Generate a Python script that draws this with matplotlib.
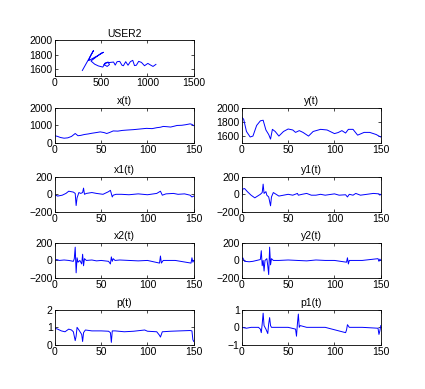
import matplotlib
matplotlib.use("Agg")
import matplotlib.pyplot as plt

plt.rcParams['font.family'] = ['Liberation Sans', 'DejaVu Sans']
plt.rcParams['font.size'] = 7.5

# signature trace (pen x, pen y)
sig_x = [297, 417, 385, 365, 470, 525, 500, 390, 430, 470, 518, 543, 575, 590, 565, 530, 560,
         600, 634, 652, 672, 700, 725, 740, 765, 790, 815, 841, 860, 880, 905, 935, 968, 1004,
         1030, 1060, 1091]
sig_y = [1576, 1857, 1780, 1715, 1790, 1833, 1820, 1710, 1665, 1640, 1624, 1681, 1695, 1660, 1633,
         1660, 1685, 1690, 1695, 1652, 1700, 1705, 1650, 1643, 1700, 1650, 1700, 1719, 1645, 1650,
         1705, 1690, 1643, 1676, 1655, 1633, 1662]

x_t = [0, 3, 6, 10, 14, 18, 22, 25, 28, 32, 36, 40, 45, 49, 53, 56, 59, 63, 68, 73, 78, 85, 92,
       99, 105, 110, 114, 117, 121, 125, 129, 132, 137, 141, 146, 148, 150]
x_v = [420, 380, 320, 280, 300, 380, 545, 420, 440, 490, 520, 560, 600, 636, 600, 545, 600, 690,
       680, 720, 740, 764, 800, 836, 820, 873, 900, 945, 930, 910, 960, 1000, 1010, 1040, 1090,
       1060, 990]

y_t = [0, 2, 5, 9, 12, 16, 20, 23, 26, 29, 31, 33, 36, 40, 45, 50, 55, 58, 62, 66, 72, 77, 85,
       92, 100, 104, 108, 112, 115, 120, 125, 132, 138, 145, 148, 150]
y_v = [1867, 1837, 1665, 1587, 1600, 1750, 1815, 1824, 1686, 1622, 1557, 1695, 1665, 1600, 1665,
       1700, 1686, 1652, 1677, 1652, 1600, 1665, 1695, 1686, 1635, 1650, 1677, 1643, 1695, 1695,
       1613, 1652, 1652, 1622, 1600, 1587]

x1_t = [0, 3, 8, 12, 15, 20, 22, 23, 24, 26, 28, 30, 31, 32, 34, 40, 45, 52, 58, 60, 62, 63, 66,
        72, 80, 90, 100, 110, 114, 116, 120, 128, 133, 140, 146, 148, 150]
x1_v = [-5, -20, -10, 10, 35, 25, 10, -127, -40, 20, 10, 20, 70, 0, 10, 20, 10, 0, 30, 45, -30,
        -10, 0, 0, -5, 5, -5, 10, 35, -10, 5, 10, 0, 5, -10, -30, -20]

y1_t = [0, 1, 3, 6, 10, 14, 17, 20, 22, 23, 24, 26, 27, 29, 31, 32, 34, 37, 40, 45, 50, 55, 60,
        61, 65, 70, 75, 80, 85, 90, 100, 105, 112, 114, 116, 120, 123, 128, 135, 142, 148, 149, 150]
y1_v = [-20, 60, 65, 30, -10, -40, -20, 0, 20, 115, 10, 30, -10, -30, -130, -30, 20, 0, -20, -10,
        0, -10, 10, -10, 0, 10, -10, -10, 0, -10, 5, -10, -5, -30, 0, -10, 10, -10, 0, 10, 5, -10, 0]

x2_t = [0, 2, 5, 10, 15, 20, 21, 22, 23, 24, 25, 27, 29, 30, 31, 32, 34, 40, 45, 50, 58, 60, 61,
        62, 63, 65, 70, 80, 90, 100, 113, 114, 115, 117, 130, 147, 148, 149, 150]
x2_v = [0, 10, 0, 5, 0, -10, 20, 150, -140, 30, -20, 0, -40, 70, -60, 20, 0, 5, -5, 0, -10, -40,
        40, -10, 20, 0, 5, 0, -5, 0, -30, 50, -30, 0, 0, -30, 30, -20, 0]

y2_t = [0, 1, 3, 8, 12, 16, 20, 21, 22, 23, 24, 25, 27, 28, 29, 30, 31, 32, 34, 40, 50, 60, 70,
        80, 90, 100, 113, 114, 115, 116, 130, 147, 148, 149, 150]
y2_v = [20, 30, -10, -15, -10, 0, 10, 110, -60, 0, -120, 0, 20, -60, -160, 150, -50, 20, 0, 0, 5,
        0, -5, 5, 0, 0, -20, 30, -40, 0, 0, 20, -10, 15, 0]

p_t = [0, 3, 7, 11, 15, 18, 20, 22, 23, 24, 26, 29, 30, 31, 33, 40, 50, 58, 60, 61, 62, 65, 75,
       85, 97, 100, 110, 113, 114, 116, 125, 135, 146, 148, 149, 150]
p_v = [0.95, 0.9, 0.8, 0.75, 0.9, 0.85, 0.75, 0.25, 0.5, 1.0, 0.85, 0.6, 0.2, 0.7, 0.85, 0.8, 0.8,
       0.78, 0.7, 0.15, 0.8, 0.8, 0.75, 0.78, 0.85, 0.78, 0.75, 0.55, 0.45, 0.75, 0.78, 0.8, 0.82,
       0.8, 0.3, 0.2]

p1_t = [0, 5, 10, 18, 20, 21, 22, 23, 24, 26, 28, 29, 30, 31, 32, 40, 50, 58, 59, 60, 61, 62, 63,
        70, 90, 112, 113, 114, 116, 130, 147, 148, 149, 150]
p1_v = [0, -0.05, 0, 0, -0.1, -0.3, 0.2, 0.8, 0.1, -0.1, -0.35, 0.2, 0.55, 0.1, 0, 0, 0, -0.1,
        -0.5, 0.2, 0.75, 0, 0.1, 0, 0, -0.3, -0.15, 0.15, 0, 0, -0.05, -0.4, -0.2, 0.1]

fig = plt.figure(figsize=(4.25, 3.89), dpi=100)


def panel(rect, xs, ys, title, xlim, ylim, xticks, yticks):
    ax = fig.add_axes(rect)
    ax.plot(xs, ys, color='b', lw=0.7)
    ax.set_xlim(xlim)
    ax.set_ylim(ylim)
    ax.set_xticks(xticks)
    ax.set_yticks(yticks)
    ax.tick_params(direction='in', length=2, width=0.5, pad=1.5, top=True, right=True)
    for s in ax.spines.values():
        s.set_linewidth(0.6)
    ax.set_title(title, fontsize=7.5, pad=2.5)
    return ax


L, R, W, H = 0.129, 0.569, 0.327, 0.091
rows = [0.805, 0.632, 0.455, 0.285, 0.113]
t_ticks = [0, 50, 100, 150]

panel([L, rows[0], W, H], sig_x, sig_y, 'USER2', (0, 1500), (1500, 2000),
      [0, 500, 1000, 1500], [1600, 1800, 2000])
panel([L, rows[1], W, H], x_t, x_v, 'x(t)', (0, 150), (0, 2000), t_ticks, [0, 1000, 2000])
panel([R, rows[1], W, H], y_t, y_v, 'y(t)', (0, 150), (1500, 2000), t_ticks, [1600, 1800, 2000])
panel([L, rows[2], W, H], x1_t, x1_v, 'x1(t)', (0, 150), (-200, 200), t_ticks, [-200, 0, 200])
panel([R, rows[2], W, H], y1_t, y1_v, 'y1(t)', (0, 150), (-200, 200), t_ticks, [-200, 0, 200])
panel([L, rows[3], W, H], x2_t, x2_v, 'x2(t)', (0, 150), (-200, 200), t_ticks, [-200, 0, 200])
panel([R, rows[3], W, H], y2_t, y2_v, 'y2(t)', (0, 150), (-200, 200), t_ticks, [-200, 0, 200])
panel([L, rows[4], W, H], p_t, p_v, 'p(t)', (0, 150), (0, 2), t_ticks, [0, 1, 2])
panel([R, rows[4], W, H], p1_t, p1_v, 'p1(t)', (0, 150), (-1, 1), t_ticks, [-1, 0, 1])

fig.savefig('out.png', dpi=100)
